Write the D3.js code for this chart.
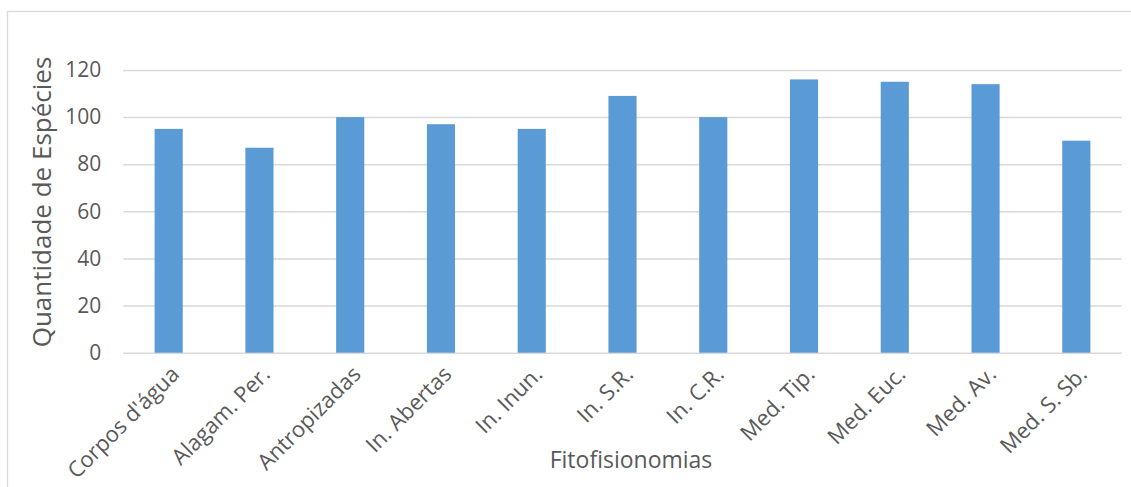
<!DOCTYPE html>
<html>
<head>
<meta charset="utf-8">
<script src="https://cdn.jsdelivr.net/npm/d3@7"></script>
<style>
  html, body { margin: 0; padding: 0; background: #fff; }
  svg { display: block; }
  text { font-family: "Open Sans", Lato, sans-serif; fill: #595959; }
</style>
</head>
<body>
<svg id="chart" width="1131" height="487"></svg>
<script>
// Species count per vegetation type
const categories = ["Corpos d'água", "Alagam. Per.", "Antropizadas", "In. Abertas", "In. Inun.",
  "In. S.R.", "In. C.R.", "Med. Tip.", "Med. Euc.", "Med. Av.", "Med. S. Sb."];
const species = [95, 87, 100, 97, 95, 109, 100, 116, 115, 114, 90];
const yTicks = [0, 20, 40, 60, 80, 100, 120];
const xTitle = "Fitofisionomias";
const yTitle = "Quantidade de Espécies";

const svg = d3.select("#chart");
const W = 1131, H = 487;
const plot = { left: 123.3, right: 1121.7, top: 70, bottom: 352.7 };

// chart frame
svg.append("rect")
  .attr("x", 7.5).attr("y", 11.5)
  .attr("width", W).attr("height", H)
  .attr("fill", "none").attr("stroke", "#d9d9d9").attr("stroke-width", 1.3);

const x = d3.scaleBand()
  .domain(categories)
  .range([plot.left, plot.right])
  .paddingInner(0.69)
  .paddingOuter(0.345);

const y = d3.scaleLinear()
  .domain([0, 120])
  .range([plot.bottom, plot.top]);

// horizontal gridlines + labels
const yAxis = d3.axisLeft(y)
  .tickValues(yTicks)
  .tickSize(-(plot.right - plot.left))
  .tickPadding(22);

const gy = svg.append("g")
  .attr("transform", `translate(${plot.left},0)`)
  .call(yAxis);
gy.select(".domain").remove();
gy.selectAll(".tick line").attr("stroke", "#d9d9d9").attr("stroke-width", 1.5);
gy.selectAll(".tick text")
  .style("font-size", "21px").attr("fill", "#595959");

// bars
svg.append("g").selectAll("rect")
  .data(categories)
  .join("rect")
  .attr("x", d => x(d))
  .attr("width", x.bandwidth())
  .attr("y", (d, i) => y(species[i]))
  .attr("height", (d, i) => y(0) - y(species[i]))
  .attr("fill", "#5b9bd5");

// category axis
const xAxis = d3.axisBottom(x).tickSize(0).tickPadding(0);
const gx = svg.append("g")
  .attr("transform", `translate(0,${plot.bottom})`)
  .call(xAxis);
gx.select(".domain").remove();
gx.selectAll(".tick text")
  .style("font-size", "22px")
  .attr("fill", "#595959")
  .attr("text-anchor", "end")
  .attr("dy", "0")
  .attr("transform", "translate(12,23) rotate(-45)");

// axis titles
svg.append("text")
  .attr("x", 631).attr("y", 468)
  .attr("text-anchor", "middle")
  .style("font-size", "23px")
  .text(xTitle);

svg.append("text")
  .attr("transform", "translate(51,202) rotate(-90)")
  .attr("text-anchor", "middle")
  .style("font-size", "26px")
  .text(yTitle);
</script>
</body>
</html>
